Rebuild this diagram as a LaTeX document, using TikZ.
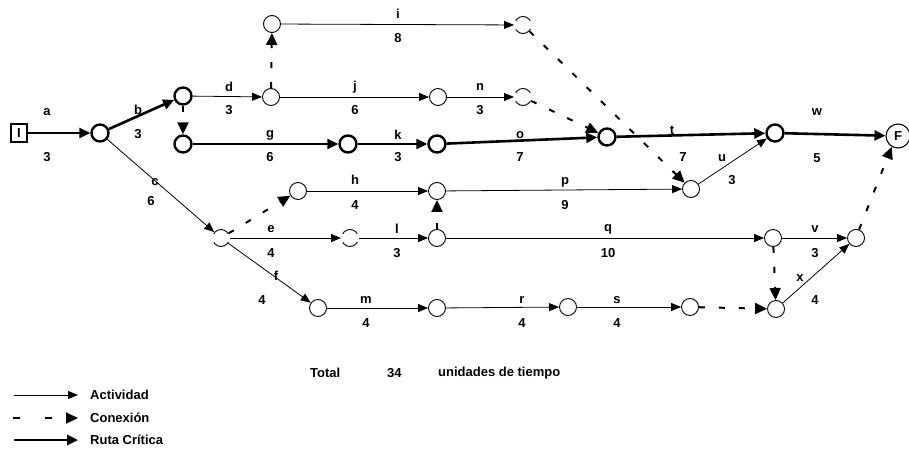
\documentclass[tikz,border=0pt]{standalone}
\usepackage{fontspec}
\setmainfont{Liberation Sans}
\usetikzlibrary{arrows.meta}
\tikzset{
  lbl/.style={font=\bfseries\fontsize{13}{15}\selectfont, inner sep=0pt},
  ev/.style={circle, draw, line width=0.9pt, minimum size=17pt, inner sep=0pt},
  evc/.style={circle, draw, line width=2.4pt, minimum size=17pt, inner sep=0pt},
  broken/.style={circle, draw, line width=0.9pt, minimum size=17pt, inner sep=0pt,
     dash pattern=on 17.8pt off 8.9pt, dash phase=22.25pt},
  act/.style={line width=0.8pt, -{Triangle[length=10pt,width=8pt]}},
  crit/.style={line width=2.6pt, -{Triangle[length=11pt,width=10pt]}},
  dummy/.style={line width=2pt, dash pattern=on 6pt off 14pt,
     -{Triangle[length=12pt,width=11pt]}},
}
\begin{document}
\begin{tikzpicture}[x=1pt,y=-1pt]
\useasboundingbox (0,0) rectangle (909,449);
% events
\node[draw, line width=1.2pt, minimum width=16pt, minimum height=18pt, inner sep=0pt, lbl] (I) at (19,133) {I};
\node[evc] (A) at (100,133) {};
\node[evc] (B) at (183,96) {};
\node[evc] (C) at (183,144) {};
\node[ev] (D) at (272,24) {};
\node[ev] (E) at (271,97) {};
\node[ev] (Fj) at (438,97) {};
\node[broken] (G) at (523,97) {};
\node[broken] (H) at (523,25) {};
\node[evc] (K) at (348,144) {};
\node[evc] (L) at (437,144) {};
\node[evc] (M) at (607,137) {};
\node[evc] (N) at (775,133) {};
\node[circle, draw, line width=1.1pt, minimum size=24pt, inner sep=0pt, lbl] (Fin) at (898,136) {F};
\node[ev] (P) at (691,189) {};
\node[ev] (Q) at (298,191) {};
\node[ev] (R) at (437,191) {};
\node[broken] (S) at (221,238) {};
\node[broken] (T) at (350,238) {};
\node[ev] (U) at (437,238) {};
\node[ev] (V) at (773,238) {};
\node[ev] (W) at (856,238) {};
\node[ev] (X) at (318,308) {};
\node[ev] (Y) at (437,308) {};
\node[ev] (Z) at (568,307) {};
\node[ev] (AA) at (690,307) {};
\node[ev] (AB) at (776,309) {};
% critical path
\draw[crit] (I) -- (A);
\draw[crit] (A) -- (B);
\draw[crit] (C) -- (K);
\draw[crit] (K) -- (L);
\draw[crit] (L) -- (M);
\draw[crit] (M) -- (N);
\draw[crit] (N) -- (Fin);
% activities
\draw[act] (A) -- (S);
\draw[act] (B) -- (E);
\draw[act] (D) -- (H);
\draw[act] (E) -- (Fj);
\draw[act] (Fj) -- (G);
\draw[act] (Q) -- (R);
\draw[act] (R) -- (P);
\draw[act] (S) -- (T);
\draw[act] (T) -- (U);
\draw[act] (U) -- (V);
\draw[act] (V) -- (W);
\draw[act] (S) -- (X);
\draw[act] (X) -- (Y);
\draw[act] (Y) -- (Z);
\draw[act] (Z) -- (AA);
\draw[act] (AB) -- (W);
\draw[act] (P) -- (N);
% dummies
\draw[dummy] (E) -- (D);
\draw[dummy] (B) -- (C);
\draw[dummy] (G) -- (M);
\draw[dummy] (H) -- (P);
\draw[dummy] (S) -- (Q);
\draw[dummy] (U) -- (R);
\draw[dummy] (V) -- (AB);
\draw[dummy] (AA) -- (AB);
\draw[dummy] (W.70) -- (Fin.240);
% labels
\node[lbl] (la) at (47,112) {a};   \node[lbl] (la3) at (47,157) {3};
\node[lbl] (lb) at (138,110) {b};  \node[lbl] (lb3) at (138,134) {3};
\node[lbl] (lc) at (155,182) {c};  \node[lbl] (lc6) at (151,201) {6};
\node[lbl] (ld) at (229,87) {d};   \node[lbl] (ld3) at (229,110) {3};
\node[lbl] (li) at (398,14) {i};   \node[lbl] (li8) at (398,38) {8};
\node[lbl] (lj) at (355,87) {j};   \node[lbl] (lj6) at (355,110) {6};
\node[lbl] (ln) at (480,87) {n};   \node[lbl] (ln3) at (480,110) {3};
\node[lbl] (lg) at (270,135) {g};  \node[lbl] (lg6) at (270,157) {6};
\node[lbl] (lk) at (398,135) {k};  \node[lbl] (lk3) at (398,157) {3};
\node[lbl] (lo) at (520,135) {o};  \node[lbl] (lo7) at (520,157) {7};
\node[lbl] (lt) at (672,130) {t};  \node[lbl] (lt7) at (683,157) {7};
\node[lbl] (lw) at (817,112) {w};  \node[lbl] (lw5) at (817,158) {5};
\node[lbl] (lu) at (722,158) {u};  \node[lbl] (lu3) at (732,180) {3};
\node[lbl] (lh) at (355,180) {h};  \node[lbl] (lh4) at (355,205) {4};
\node[lbl] (lp) at (565,182) {p};  \node[lbl] (lp9) at (565,205) {9};
\node[lbl] (le) at (271,229) {e};  \node[lbl] (le4) at (271,253) {4};
\node[lbl] (ll) at (397,229) {l};  \node[lbl] (ll3) at (397,253) {3};
\node[lbl] (lq) at (608,229) {q};  \node[lbl] (lq10) at (608,253) {10};
\node[lbl] (lv) at (815,229) {v};  \node[lbl] (lv3) at (815,253) {3};
\node[lbl] (lf) at (276,276) {f};  \node[lbl] (lf4) at (262,300) {4};
\node[lbl] (lm) at (366,300) {m};  \node[lbl] (lm4) at (366,323) {4};
\node[lbl] (lr) at (522,300) {r};  \node[lbl] (lr4) at (522,323) {4};
\node[lbl] (ls) at (617,300) {s};  \node[lbl] (ls4) at (617,323) {4};
\node[lbl] (lx) at (800,278) {x};  \node[lbl] (lx4) at (815,300) {4};
% total
\node[lbl, anchor=west] (tot) at (310,373) {Total};
\node[lbl, anchor=west] (tot34) at (387,373) {34};
\node[lbl, anchor=west] (totu) at (438,373) {unidades de tiempo};
% legend
\coordinate (l1a) at (14,395); \coordinate (l1b) at (78,395);
\coordinate (l2a) at (13,418); \coordinate (l2b) at (78,418);
\coordinate (l3a) at (14,440); \coordinate (l3b) at (78,440);
\draw[act] (l1a) -- (l1b);
\draw[line width=2pt, dash pattern=on 7pt off 25pt, -{Triangle[length=12pt,width=11pt]}] (l2a) -- (l2b);
\draw[crit] (l3a) -- (l3b);
\node[lbl, anchor=west] (leg1) at (90,395) {Actividad};
\node[lbl, anchor=west] (leg2) at (90,418) {Conexión};
\node[lbl, anchor=west] (leg3) at (90,440) {Ruta Crítica};
\end{tikzpicture}
\end{document}
